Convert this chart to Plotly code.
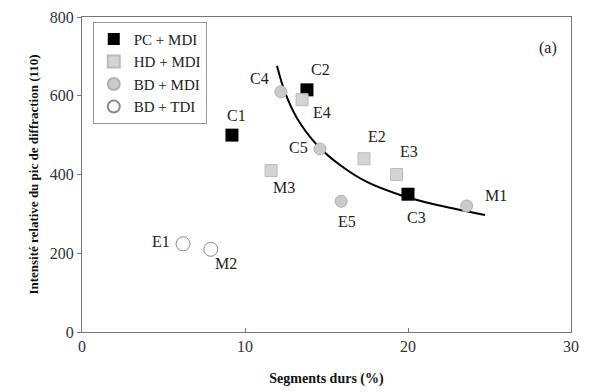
import plotly.graph_objects as go

# ---- data ----
pc_mdi_names = ["C1", "C2", "C3"]
pc_mdi_x = [9.2, 13.8, 20.0]
pc_mdi_y = [500, 615, 350]

hd_mdi_names = ["M3", "E2", "E3", "E4"]
hd_mdi_x = [11.6, 17.3, 19.3, 13.5]
hd_mdi_y = [410, 440, 400, 590]

bd_mdi_names = ["C4", "C5", "E5", "M1"]
bd_mdi_x = [12.2, 14.6, 15.9, 23.6]
bd_mdi_y = [610, 465, 332, 320]

bd_tdi_names = ["E1", "M2"]
bd_tdi_x = [6.2, 7.9]
bd_tdi_y = [224, 210]

fit_x = [11.96, 12.45, 13.19, 14.42, 15.83, 17.48, 19.51, 21.53, 24.72]
fit_y = [676, 609, 543, 475, 424, 381, 348, 325, 297]

# label offsets in pixels (dx, dy)
label_offsets = {
    "C1": (5, 20), "C2": (14, 20), "C3": (8, -23), "C4": (-21, 13),
    "C5": (-21, 1), "E4": (20, -13), "E2": (13, 22), "E3": (12, 23),
    "M1": (29, 11), "M3": (13, -17), "E5": (6, -20), "E1": (-22, 2),
    "M2": (15, -14),
}

FONT = "Liberation Serif, Times New Roman, DejaVu Serif, serif"
fig = go.Figure()

fig.add_trace(go.Scatter(x=fit_x, y=fit_y, mode="lines",
                         line=dict(color="black", width=2, shape="spline", smoothing=1.0),
                         showlegend=False, hoverinfo="skip"))

fig.add_trace(go.Scatter(x=pc_mdi_x, y=pc_mdi_y, mode="markers", name="PC + MDI",
                         marker=dict(symbol="square", size=13, color="black")))
fig.add_trace(go.Scatter(x=hd_mdi_x, y=hd_mdi_y, mode="markers", name="HD + MDI",
                         marker=dict(symbol="square", size=12, color="#d4d4d4",
                                     line=dict(color="#bbbbbb", width=1))))
fig.add_trace(go.Scatter(x=bd_mdi_x, y=bd_mdi_y, mode="markers", name="BD + MDI",
                         marker=dict(symbol="circle", size=12, color="#cacaca",
                                     line=dict(color="#b0b0b0", width=1))))
fig.add_trace(go.Scatter(x=bd_tdi_x, y=bd_tdi_y, mode="markers", name="BD + TDI",
                         marker=dict(symbol="circle-open", size=14, color="#8a8a8a",
                                     line=dict(width=1))))

for names, xs, ys in [(pc_mdi_names, pc_mdi_x, pc_mdi_y), (hd_mdi_names, hd_mdi_x, hd_mdi_y),
                      (bd_mdi_names, bd_mdi_x, bd_mdi_y), (bd_tdi_names, bd_tdi_x, bd_tdi_y)]:
    for n, x, y in zip(names, xs, ys):
        dx, dy = label_offsets[n]
        fig.add_annotation(x=x, y=y, text=n, showarrow=False, xshift=dx, yshift=dy,
                           font=dict(family=FONT, size=16, color="#222"))

fig.add_annotation(x=0.953, y=0.9, xref="paper", yref="paper", text="(a)", showarrow=False,
                   xanchor="center", yanchor="middle",
                   font=dict(family=FONT, size=16, color="#222"))

axis_common = dict(showline=True, linecolor="#777", linewidth=1, mirror=True, showgrid=False,
                   zeroline=False, tickfont=dict(family=FONT, size=16, color="#333"),
                   ticklen=4, tickcolor="#777")

fig.update_layout(
    width=589, height=392,
    margin=dict(l=82, r=18, t=9, b=60),
    paper_bgcolor="white", plot_bgcolor="white",
    xaxis=dict(range=[0, 30], tickvals=[0, 10, 20, 30], ticks="inside",
               title=dict(text="<b>Segments durs (%)</b>", font=dict(family=FONT, size=14, color="#111"), standoff=18),
               **axis_common),
    yaxis=dict(range=[0, 800], tickvals=[0, 200, 400, 600, 800], ticks="outside",
               title=dict(text="<b>Intensité relative du pic de diffraction (110)</b>",
                          font=dict(family=FONT, size=13, color="#111"), standoff=8),
               **axis_common),
    legend=dict(x=0.022, y=0.985, xanchor="left", yanchor="top", bgcolor="white",
                bordercolor="#999", borderwidth=1, font=dict(family=FONT, size=15, color="#222"),
                tracegroupgap=0, itemsizing="constant"),
    font=dict(family=FONT),
)

fig.write_html("out.html")
